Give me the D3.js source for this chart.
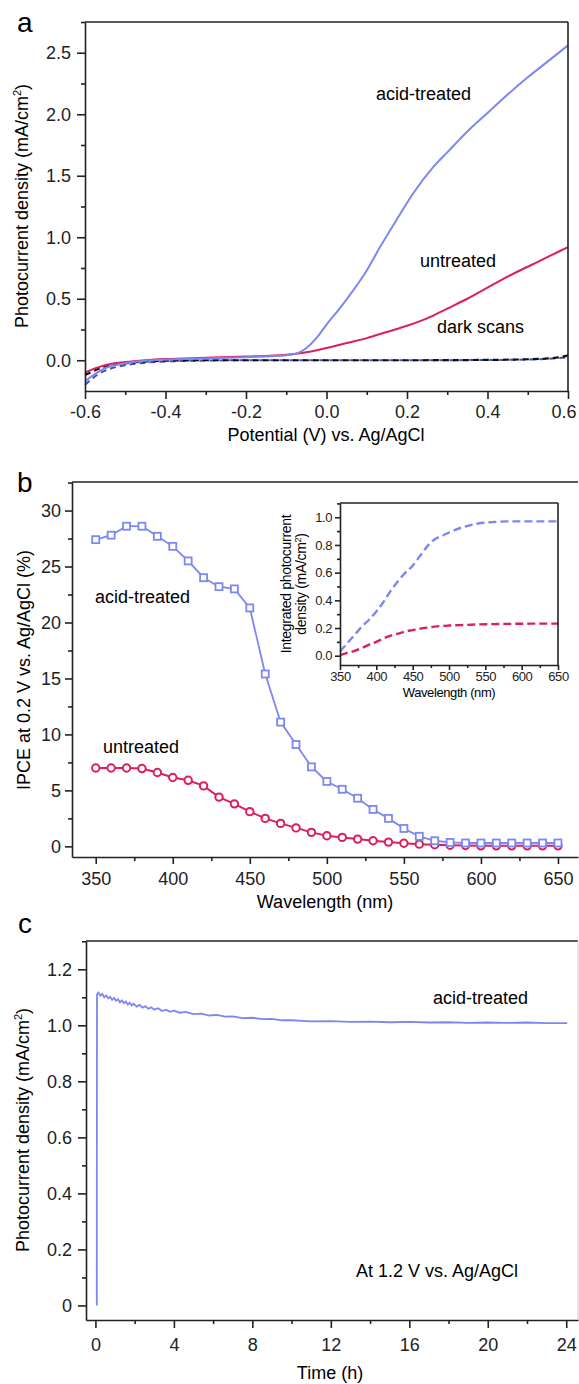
<!DOCTYPE html>
<html><head><meta charset="utf-8">
<script src="https://cdn.jsdelivr.net/npm/d3@7"></script>
<style>
html,body{margin:0;padding:0;background:#fff;}
svg{display:block;font-family:"Liberation Sans",Arial,sans-serif;}
.axis path,.axis line{stroke:#222;stroke-width:1.6;}
.axis text{fill:#222;font-family:"Liberation Sans",Arial,sans-serif;}
</style></head>
<body>
<svg id="fig" width="579" height="1384"></svg>
<script>
// ---------- Panel a data ----------
const aAcidV = [-0.6,-0.57,-0.55,-0.5,-0.45,-0.4,-0.3,-0.2,-0.1,-0.07,-0.05,-0.02,0.0,0.03,0.06,0.1,0.133,0.17,0.216,0.265,0.3,0.35,0.4,0.45,0.5,0.55,0.6];
const aAcidJ = [-0.17,-0.1,-0.065,-0.025,-0.005,0.005,0.015,0.025,0.04,0.06,0.1,0.2,0.29,0.41,0.54,0.73,0.92,1.12,1.36,1.57,1.69,1.86,2.01,2.16,2.3,2.43,2.56];
const aUntrV = [-0.6,-0.57,-0.55,-0.5,-0.45,-0.4,-0.3,-0.2,-0.1,-0.05,0.0,0.05,0.1,0.15,0.2,0.25,0.3,0.35,0.4,0.45,0.5,0.55,0.6];
const aUntrJ = [-0.1,-0.06,-0.04,-0.015,0.0,0.01,0.02,0.03,0.045,0.065,0.1,0.14,0.18,0.23,0.28,0.34,0.42,0.5,0.59,0.68,0.76,0.84,0.92];
const aDark1V = [-0.6,-0.57,-0.55,-0.5,-0.45,-0.4,-0.3,-0.2,0.0,0.2,0.4,0.5,0.55,0.58,0.6];
const aDark1J = [-0.12,-0.075,-0.05,-0.025,-0.01,-0.004,0.0,0.0,0.0,0.0,0.003,0.008,0.015,0.025,0.04];
const aDark2V = [-0.6,-0.57,-0.55,-0.5,-0.45,-0.4,-0.3,-0.2,0.0,0.2,0.4,0.5,0.55,0.6];
const aDark2J = [-0.2,-0.12,-0.085,-0.04,-0.02,-0.01,-0.003,0.0,0.0,0.0,0.002,0.006,0.012,0.025];
const aXTicks = [-0.6,-0.4,-0.2,0.0,0.2,0.4,0.6];
const aYTicks = [0.0,0.5,1.0,1.5,2.0,2.5];

// ---------- Panel b data ----------
const bWave = [350,360,370,380,390,400,410,420,430,440,450,460,470,480,490,500,510,520,530,540,550,560,570,580,590,600,610,620,630,640,650];
const bAcid = [27.4,27.8,28.6,28.6,27.7,26.8,25.5,24.0,23.2,23.0,21.3,15.4,11.1,9.1,7.1,5.8,5.1,4.3,3.3,2.5,1.6,0.9,0.5,0.35,0.3,0.3,0.3,0.3,0.3,0.3,0.3];
const bUntr = [7.0,7.0,7.0,6.95,6.6,6.15,5.9,5.4,4.4,3.8,3.1,2.5,2.05,1.65,1.25,0.95,0.8,0.65,0.5,0.38,0.28,0.2,0.15,0.1,0.08,0.05,0.05,0.05,0.05,0.05,0.05];
const bXTicks = [350,400,450,500,550,600,650];
const bYTicks = [0,5,10,15,20,25,30];
// inset
const iWave = [350,360,370,380,390,400,410,420,430,440,450,460,470,480,490,500,520,540,560,580,600,625,650];
const iAcid = [0.03,0.09,0.15,0.21,0.26,0.32,0.39,0.47,0.54,0.6,0.65,0.72,0.79,0.84,0.865,0.89,0.93,0.955,0.965,0.97,0.97,0.97,0.97];
const iUntr = [0.005,0.02,0.035,0.055,0.08,0.1,0.125,0.145,0.16,0.175,0.185,0.195,0.203,0.21,0.215,0.218,0.222,0.226,0.228,0.23,0.231,0.232,0.232];
const iXTicks = [350,400,450,500,550,600,650];
const iYTicks = [0.0,0.2,0.4,0.6,0.8,1.0];

// ---------- Panel c data ----------
const cTime = [0.07,0.08,0.15,0.25,0.35,0.45,0.55,0.65,0.75,0.85,0.95,1.05,1.15,1.25,1.35,1.45,1.55,1.65,1.75,1.85,1.95,2.1,2.25,2.4,2.55,2.7,2.85,3.0,3.2,3.4,3.6,3.8,4.0,4.3,4.6,5.0,5.4,5.8,6.2,6.6,7.0,7.5,8.0,8.5,9.0,9.5,10,11,12,13,14,15,16,17,18,19,20,21,22,23,24.05];
const cJ    = [0.0,1.11,1.117,1.106,1.112,1.1,1.107,1.096,1.102,1.091,1.098,1.088,1.093,1.082,1.089,1.079,1.085,1.074,1.081,1.071,1.077,1.067,1.073,1.063,1.068,1.059,1.064,1.056,1.061,1.051,1.056,1.048,1.052,1.045,1.048,1.04,1.042,1.035,1.037,1.031,1.032,1.026,1.027,1.022,1.023,1.018,1.018,1.014,1.015,1.012,1.013,1.011,1.012,1.01,1.011,1.009,1.01,1.009,1.01,1.008,1.008];
const cXTicks = [0,4,8,12,16,20,24];
const cYTicks = [0,0.2,0.4,0.6,0.8,1.0,1.2];

const BLUE = "#7d87f2", RED = "#dc1f5b", INK = "#222";
const FS = 18;
const svg = d3.select("#fig");

function zip(xs, ys){ return xs.map((x,i)=>[x,ys[i]]); }

function frame(g, x, y, opts){
  const [x0,x1] = x.range(), [y0,y1] = y.range();
  const tk = opts.tick||7, mtk = opts.minorTick||4, fs = opts.fs||FS;
  g.append("g").attr("class","axis").attr("transform",`translate(0,${y0})`)
    .call(d3.axisBottom(x).tickValues(opts.xMinor).tickSize(mtk).tickFormat(""))
    .call(s=>s.select(".domain").remove());
  g.append("g").attr("class","axis").attr("transform",`translate(${x0},0)`)
    .call(d3.axisLeft(y).tickValues(opts.yMinor).tickSize(mtk).tickFormat(""))
    .call(s=>s.select(".domain").remove());
  const xa = g.append("g").attr("class","axis").attr("transform",`translate(0,${y0})`)
    .call(d3.axisBottom(x).tickValues(opts.xTicks).tickSize(tk).tickPadding(opts.xPad||6).tickFormat(opts.xFmt).tickSizeOuter(0));
  xa.selectAll("text").attr("font-size",fs);
  const ya = g.append("g").attr("class","axis").attr("transform",`translate(${x0},0)`)
    .call(d3.axisLeft(y).tickValues(opts.yTicks).tickSize(tk).tickPadding(opts.yPad||5).tickFormat(opts.yFmt).tickSizeOuter(0));
  ya.selectAll("text").attr("font-size",fs);
  g.append("line").attr("x1",x0).attr("x2",x1).attr("y1",y1).attr("y2",y1).attr("stroke",INK).attr("stroke-width",opts.topW||1.6);
  if(opts.right!==false) g.append("line").attr("x1",x1).attr("x2",x1).attr("y1",y1).attr("y2",y0).attr("stroke",opts.rightColor||INK).attr("stroke-width",opts.rightW||1.6);
  return xa;
}

function range(a,b,s){ const r=[]; for(let v=a; v<=b+1e-9; v+=s) r.push(+v.toFixed(4)); return r; }

// ================= Panel a =================
{
  const x = d3.scaleLinear().domain([-0.6,0.6]).range([85,568]);
  const y = d3.scaleLinear().domain([-0.25,2.75]).range([391,22]);
  const g = svg.append("g");
  const line = d3.line().x(d=>x(d[0])).y(d=>y(d[1])).curve(d3.curveMonotoneX);
  g.append("path").datum(zip(aDark2V,aDark2J)).attr("d",line).attr("fill","none").attr("stroke","#3d4fb0").attr("stroke-width",2).attr("stroke-dasharray","6,4");
  g.append("path").datum(zip(aDark1V,aDark1J)).attr("d",line).attr("fill","none").attr("stroke","#111").attr("stroke-width",2.2).attr("stroke-dasharray","6,4");
  g.append("path").datum(zip(aUntrV,aUntrJ)).attr("d",line).attr("fill","none").attr("stroke",RED).attr("stroke-width",2);
  g.append("path").datum(zip(aAcidV,aAcidJ)).attr("d",line).attr("fill","none").attr("stroke",BLUE).attr("stroke-width",2);
  const xa = frame(g,x,y,{xTicks:aXTicks,yTicks:aYTicks,xMinor:range(-0.5,0.5,0.2),yMinor:range(0.25,2.75,0.5),
    xFmt:d=>d.toFixed(1),yFmt:d=>d.toFixed(1),tick:8,minorTick:4,yPad:6,xPad:6});
  xa.selectAll("text").filter(d=>Math.abs(d-0.6)<1e-6).attr("text-anchor","end").attr("dx",8);
  svg.append("text").attr("x",17).attr("y",32).attr("font-size",28).text("a");
  svg.append("text").attr("x",376).attr("y",100).attr("font-size",FS).text("acid-treated");
  svg.append("text").attr("x",420).attr("y",267).attr("font-size",FS).text("untreated");
  svg.append("text").attr("x",437).attr("y",333).attr("font-size",FS).text("dark scans");
  svg.append("text").attr("x",326).attr("y",441).attr("text-anchor","middle").attr("font-size",FS).text("Potential (V) vs. Ag/AgCl");
  const t = svg.append("text").attr("transform","translate(28,206) rotate(-90)").attr("text-anchor","middle").attr("font-size",FS);
  t.append("tspan").text("Photocurrent density (mA/cm");
  t.append("tspan").attr("font-size",11).attr("dy",-7).text("2");
  t.append("tspan").attr("dy",7).text(")");
}

// ================= Panel b =================
{
  const x = d3.scaleLinear().domain([334.6,663]).range([72,578]);
  const y = d3.scaleLinear().domain([-0.95,32.55]).range([857,482]);
  const g = svg.append("g");
  frame(g,x,y,{xTicks:bXTicks,yTicks:bYTicks,xMinor:range(375,625,50),yMinor:range(2.5,32.5,5),
    xFmt:d3.format("d"),yFmt:d3.format("d"),tick:7,minorTick:4,yPad:4,xPad:8,right:false});
  const line = d3.line().x(d=>x(d[0])).y(d=>y(d[1]));
  g.append("path").datum(zip(bWave,bUntr)).attr("d",line).attr("fill","none").attr("stroke",RED).attr("stroke-width",2);
  g.selectAll(".circ").data(zip(bWave,bUntr)).enter().append("circle")
    .attr("cx",d=>x(d[0])).attr("cy",d=>y(d[1])).attr("r",3.7).attr("fill","#fff").attr("stroke",RED).attr("stroke-width",2);
  g.append("path").datum(zip(bWave,bAcid)).attr("d",line).attr("fill","none").attr("stroke",BLUE).attr("stroke-width",1.8);
  g.selectAll(".sq").data(zip(bWave,bAcid)).enter().append("rect")
    .attr("x",d=>x(d[0])-3.5).attr("y",d=>y(d[1])-3.5).attr("width",7).attr("height",7).attr("fill","#fff").attr("stroke",BLUE).attr("stroke-width",1.8);
  svg.append("text").attr("x",17).attr("y",492).attr("font-size",28).text("b");
  svg.append("text").attr("x",95).attr("y",603).attr("font-size",FS).text("acid-treated");
  svg.append("text").attr("x",103).attr("y",753).attr("font-size",FS).text("untreated");
  svg.append("text").attr("x",325).attr("y",908).attr("text-anchor","middle").attr("font-size",FS).text("Wavelength (nm)");
  svg.append("text").attr("transform","translate(30,670) rotate(-90)").attr("text-anchor","middle").attr("font-size",FS).text("IPCE at 0.2 V vs. Ag/AgCl (%)");

  // inset
  const xi = d3.scaleLinear().domain([350,650]).range([340,558]);
  const yi = d3.scaleLinear().domain([-0.067,1.103]).range([665,503]);
  const gi = svg.append("g");
  const li = d3.line().x(d=>xi(d[0])).y(d=>yi(d[1])).curve(d3.curveMonotoneX);
  gi.append("path").datum(zip(iWave,iAcid)).attr("d",li).attr("fill","none").attr("stroke",BLUE).attr("stroke-width",2.4).attr("stroke-dasharray","8,4");
  gi.append("path").datum(zip(iWave,iUntr)).attr("d",li).attr("fill","none").attr("stroke",RED).attr("stroke-width",2.4).attr("stroke-dasharray","8,4");
  frame(gi,xi,yi,{xTicks:iXTicks,yTicks:iYTicks,xMinor:range(375,625,50),yMinor:range(0.1,1.1,0.2),
    xFmt:d3.format("d"),yFmt:d=>d.toFixed(1),tick:5,minorTick:3,fs:13,yPad:3,xPad:2});
  gi.selectAll(".axis path,.axis line").attr("stroke-width",1.2);
  gi.selectAll(".axis text").attr("letter-spacing","-0.4");
  svg.append("text").attr("x",449).attr("y",697).attr("text-anchor","middle").attr("font-size",13).attr("letter-spacing","-0.4").text("Wavelength (nm)");
  svg.append("text").attr("transform","translate(291,584) rotate(-90)").attr("text-anchor","middle").attr("font-size",14).attr("letter-spacing","-0.3").text("Integrated photocurrent");
  const t2 = svg.append("text").attr("transform","translate(306,584) rotate(-90)").attr("text-anchor","middle").attr("font-size",14).attr("letter-spacing","-0.3");
  t2.append("tspan").text("density (mA/cm");
  t2.append("tspan").attr("font-size",9).attr("dy",-5).text("2");
  t2.append("tspan").attr("dy",5).text(")");
}

// ================= Panel c =================
{
  const x = d3.scaleLinear().domain([-0.48,24.6]).range([86,578]);
  const y = d3.scaleLinear().domain([-0.052,1.301]).range([1320,941]);
  const g = svg.append("g");
  const line = d3.line().x(d=>x(d[0])).y(d=>y(d[1]));
  g.append("path").datum(zip(cTime,cJ)).attr("d",line).attr("fill","none").attr("stroke",BLUE).attr("stroke-width",1.8);
  frame(g,x,y,{xTicks:cXTicks,yTicks:cYTicks,xMinor:range(2,22,4),yMinor:range(0.1,1.3,0.2),
    xFmt:d3.format("d"),yFmt:d=>d===0?"0":d.toFixed(1),tick:8,minorTick:4,yPad:6,xPad:10,rightColor:"#ccc",rightW:1});
  svg.append("text").attr("x",18).attr("y",933).attr("font-size",28).text("c");
  svg.append("text").attr("x",433).attr("y",1004).attr("font-size",FS).text("acid-treated");
  svg.append("text").attr("x",356).attr("y",1277).attr("font-size",FS).text("At 1.2 V vs. Ag/AgCl");
  svg.append("text").attr("x",330).attr("y",1379).attr("text-anchor","middle").attr("font-size",FS).text("Time (h)");
  const t = svg.append("text").attr("transform","translate(29,1130) rotate(-90)").attr("text-anchor","middle").attr("font-size",FS);
  t.append("tspan").text("Photocurrent density (mA/cm");
  t.append("tspan").attr("font-size",11).attr("dy",-7).text("2");
  t.append("tspan").attr("dy",7).text(")");
}
</script>
</body></html>
